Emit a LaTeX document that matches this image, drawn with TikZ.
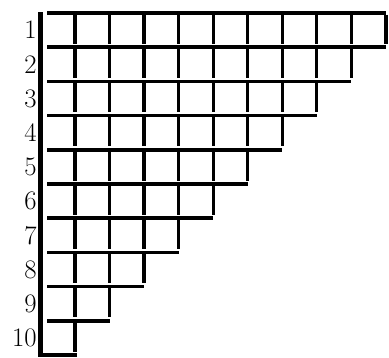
\documentclass[tikz,border=0pt]{standalone}
\usepackage{tikz}
\usetikzlibrary{positioning}

\tikzset{
  rule/.style={line width=2.6pt},
  tick/.style={line width=2.3pt},
  rowlabel/.style={anchor=east,inner sep=0pt,font=\fontsize{19}{19}\selectfont}
}

\begin{document}
\begin{tikzpicture}[x=.025cm,y=-.025cm]
  \useasboundingbox (0,0) rectangle (389,357);
  % left bar and bottom edge
  \draw[rule,line width=3pt] (40.5,12) -- (40.5,356);
  \draw[rule] (38,355) -- (77,355);
  % row rules and ticks
  \draw[rule] (47,13) -- (386,13);
  \foreach \i in {1,...,10} {
    \pgfmathsetmacro{\ytop}{13+34.2*(\i-1)}
    \pgfmathsetmacro{\ybot}{13+34.2*\i}
    \pgfmathtruncatemacro{\last}{10-\i}
    \pgfmathsetmacro{\xend}{75+34.55*\last}
    \ifnum\i<10 \draw[rule] (47,\ybot) -- (\xend,\ybot); \fi
    \foreach \k in {0,...,\last} {\draw[tick] (75+34.55*\k,\ytop+1.5) -- (75+34.55*\k,\ybot-3.5);}
    \node[rowlabel] (lab\i) at (37,{(\ytop+\ybot)/2}) {\i};
  }
\end{tikzpicture}
\end{document}
